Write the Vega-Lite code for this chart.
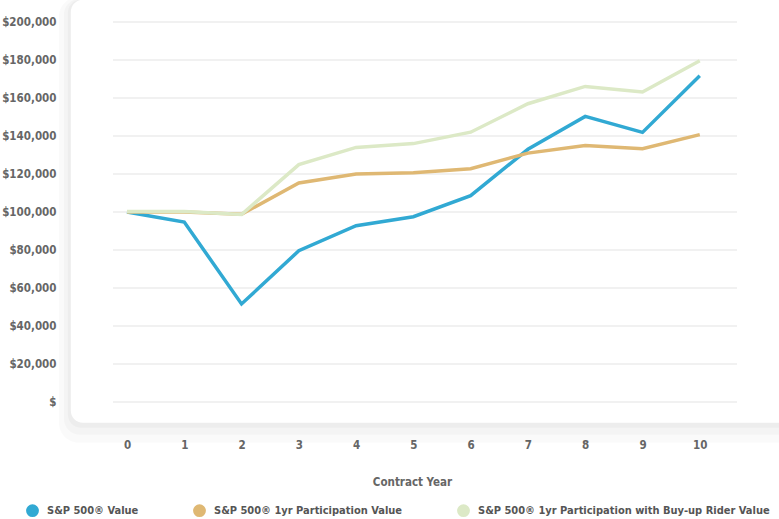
{
  "$schema": "https://vega.github.io/schema/vega-lite/v6.json",
  "width": 624,
  "height": 380,
  "autosize": {"type": "none"},
  "padding": {"left": 113, "top": 22, "right": 42, "bottom": 117},
  "background": "white",
  "config": {
    "view": {"stroke": null},
    "font": "'Noto Sans Condensed', 'DejaVu Sans Condensed', 'Liberation Sans', sans-serif",
    "axisY": {
      "values": [0, 20000, 40000, 60000, 80000, 100000, 120000, 140000, 160000, 180000, 200000],
      "labelExpr": "datum.value == 0 ? '$' : '$' + format(datum.value, ',')",
      "labelOverlap": false,
      "grid": false, "domain": false, "ticks": false, "labelPadding": 57,
      "labelFontSize": 11.5, "labelFontWeight": "bold", "labelColor": "#666666",
      "title": null
    }
  },
  "datasets": {
    "series": [
      {"year": 0, "series": "S&P 500® Value", "value": 100000},
      {"year": 1, "series": "S&P 500® Value", "value": 94700},
      {"year": 2, "series": "S&P 500® Value", "value": 51600},
      {"year": 3, "series": "S&P 500® Value", "value": 79600},
      {"year": 4, "series": "S&P 500® Value", "value": 92800},
      {"year": 5, "series": "S&P 500® Value", "value": 97500},
      {"year": 6, "series": "S&P 500® Value", "value": 108600},
      {"year": 7, "series": "S&P 500® Value", "value": 133000},
      {"year": 8, "series": "S&P 500® Value", "value": 150300},
      {"year": 9, "series": "S&P 500® Value", "value": 141900},
      {"year": 10, "series": "S&P 500® Value", "value": 171700},
      {"year": 0, "series": "S&P 500® 1yr Participation Value", "value": 100000},
      {"year": 1, "series": "S&P 500® 1yr Participation Value", "value": 100000},
      {"year": 2, "series": "S&P 500® 1yr Participation Value", "value": 98800},
      {"year": 3, "series": "S&P 500® 1yr Participation Value", "value": 115300},
      {"year": 4, "series": "S&P 500® 1yr Participation Value", "value": 120000},
      {"year": 5, "series": "S&P 500® 1yr Participation Value", "value": 120700},
      {"year": 6, "series": "S&P 500® 1yr Participation Value", "value": 122800},
      {"year": 7, "series": "S&P 500® 1yr Participation Value", "value": 131000},
      {"year": 8, "series": "S&P 500® 1yr Participation Value", "value": 135000},
      {"year": 9, "series": "S&P 500® 1yr Participation Value", "value": 133300},
      {"year": 10, "series": "S&P 500® 1yr Participation Value", "value": 140700},
      {"year": 0, "series": "S&P 500® 1yr Participation with Buy-up Rider Value", "value": 100200},
      {"year": 1, "series": "S&P 500® 1yr Participation with Buy-up Rider Value", "value": 100300},
      {"year": 2, "series": "S&P 500® 1yr Participation with Buy-up Rider Value", "value": 98700},
      {"year": 3, "series": "S&P 500® 1yr Participation with Buy-up Rider Value", "value": 124900},
      {"year": 4, "series": "S&P 500® 1yr Participation with Buy-up Rider Value", "value": 134000},
      {"year": 5, "series": "S&P 500® 1yr Participation with Buy-up Rider Value", "value": 136000},
      {"year": 6, "series": "S&P 500® 1yr Participation with Buy-up Rider Value", "value": 142000},
      {"year": 7, "series": "S&P 500® 1yr Participation with Buy-up Rider Value", "value": 157000},
      {"year": 8, "series": "S&P 500® 1yr Participation with Buy-up Rider Value", "value": 166100},
      {"year": 9, "series": "S&P 500® 1yr Participation with Buy-up Rider Value", "value": 163200},
      {"year": 10, "series": "S&P 500® 1yr Participation with Buy-up Rider Value", "value": 179600}
    ],
    "panel": [{"name": "panel"}],
    "grid": [
      {"tick": 0}, {"tick": 20000}, {"tick": 40000}, {"tick": 60000}, {"tick": 80000},
      {"tick": 100000}, {"tick": 120000}, {"tick": 140000}, {"tick": 160000}, {"tick": 180000}, {"tick": 200000}
    ]
  },
  "layer": [
    {
      "data": {"name": "panel"},
      "mark": {"type": "rect", "clip": false, "cornerRadius": 20, "fill": "#000000", "fillOpacity": 0.018, "xOffset": -12, "x2Offset": 10, "yOffset": -3, "y2Offset": 20},
      "encoding": {
        "x": {"datum": -0.98, "type": "quantitative"},
        "x2": {"datum": 11.6},
        "y": {"datum": 211700, "type": "quantitative"},
        "y2": {"datum": -10900}
      }
    },
    {
      "data": {"name": "panel"},
      "mark": {"type": "rect", "clip": false, "cornerRadius": 16, "fill": "#000000", "fillOpacity": 0.022, "xOffset": -7, "x2Offset": 6, "yOffset": -1, "y2Offset": 12},
      "encoding": {
        "x": {"datum": -0.98, "type": "quantitative"},
        "x2": {"datum": 11.6},
        "y": {"datum": 211700, "type": "quantitative"},
        "y2": {"datum": -10900}
      }
    },
    {
      "data": {"name": "panel"},
      "mark": {"type": "rect", "clip": false, "cornerRadius": 13, "fill": "#000000", "fillOpacity": 0.028, "xOffset": -3, "x2Offset": 2, "yOffset": 0, "y2Offset": 5},
      "encoding": {
        "x": {"datum": -0.98, "type": "quantitative"},
        "x2": {"datum": 11.6},
        "y": {"datum": 211700, "type": "quantitative"},
        "y2": {"datum": -10900}
      }
    },
    {
      "data": {"name": "panel"},
      "mark": {"type": "rect", "clip": false, "cornerRadius": 12, "fill": "#ffffff"},
      "encoding": {
        "x": {"datum": -0.98, "type": "quantitative"},
        "x2": {"datum": 11.6},
        "y": {"datum": 211700, "type": "quantitative"},
        "y2": {"datum": -10900}
      }
    },
    {
      "data": {"name": "grid"},
      "mark": {"type": "rule", "stroke": "#e4e4e4", "strokeWidth": 1.2},
      "encoding": {
        "y": {"field": "tick", "type": "quantitative"},
        "x": {"datum": -0.244, "type": "quantitative"},
        "x2": {"datum": 10.65}
      }
    },
    {
      "data": {"name": "series"},
      "mark": {"type": "line", "strokeWidth": 3.5, "clip": false},
      "encoding": {
        "x": {
          "field": "year", "type": "quantitative",
          "scale": {"domain": [-0.244, 10.65], "nice": false, "zero": false},
          "axis": {
            "values": [0, 1, 2, 3, 4, 5, 6, 7, 8, 9, 10], "format": "d",
            "grid": false, "domain": false, "ticks": false,
            "labelPadding": 37, "labelFontSize": 11.5, "labelFontWeight": "bold", "labelColor": "#666666",
            "title": "Contract Year", "titleFontSize": 11.5, "titleFontWeight": "bold", "titleColor": "#666666",
            "titlePadding": 26, "titleX": 299
          }
        },
        "y": {
          "field": "value", "type": "quantitative",
          "scale": {"domain": [0, 200000], "nice": false}
        },
        "color": {
          "field": "series", "type": "nominal",
          "scale": {
            "domain": ["S&P 500® Value", "S&P 500® 1yr Participation Value", "S&P 500® 1yr Participation with Buy-up Rider Value"],
            "range": ["#31a9d3", "#dfb873", "#dce9c6"]
          },
          "legend": {
            "orient": "none", "direction": "horizontal", "legendX": -87, "legendY": 482,
            "title": null, "symbolType": "circle", "symbolSize": 40, "symbolStrokeWidth": 6.5,
            "labelFontSize": 11, "labelFontWeight": "bold", "labelColor": "#555555",
            "labelOffset": 8, "columnPadding": 44, "labelLimit": 400
          }
        }
      }
    }
  ]
}
